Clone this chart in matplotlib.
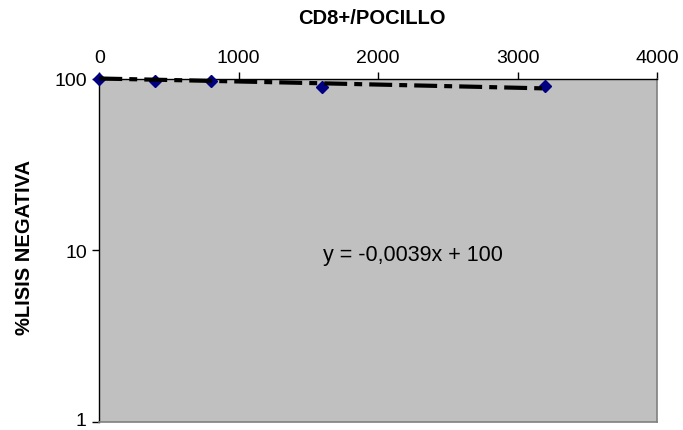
import numpy as np
import matplotlib
matplotlib.use("Agg")
import matplotlib.pyplot as plt
import matplotlib.transforms as mtransforms

# CD8+ cells per well vs. percentage of negative lysis
cd8_per_well = [0, 400, 800, 1600, 3200]
lysis_negative = [100, 97, 97, 89, 90]

# Linear trendline reported on the chart
trend_slope = -0.0039
trend_intercept = 100
trend_label = "y = -0,0039x + 100"

x_ticks = [0, 1000, 2000, 3000, 4000]
y_ticks = [1, 10, 100]

plt.rcParams['font.family'] = ['Liberation Sans', 'DejaVu Sans']

fig = plt.figure(figsize=(6.83, 4.31), dpi=100)
ax = fig.add_axes([99.3 / 683, 1 - 422.5 / 431, (657 - 99.3) / 683, (422.5 - 79.5) / 431])
ax.set_facecolor('#C0C0C0')

ax.set_yscale('log')
ax.set_xlim(0, 4000)
ax.set_ylim(1, 100)

# data points
ax.plot(cd8_per_well, lysis_negative, linestyle='none', marker='D',
        markersize=6.5, color='#000080', zorder=3, clip_on=False)

# trendline (long dash - dot)
tx = np.linspace(cd8_per_well[0], cd8_per_well[-1], 200)
ty = trend_slope * tx + trend_intercept
ax.plot(tx, ty, color='black', linewidth=3,
        dashes=(5.5, 1.7, 1.9, 1.7), zorder=4, clip_on=False)

ax.text(0.401, 0.487, trend_label, transform=ax.transAxes,
        ha='left', va='center', fontsize=15.5, color='black')

# axes styling
ax.xaxis.tick_top()
ax.set_xticks(x_ticks)
ax.set_xticklabels([str(v) for v in x_ticks])
ax.set_yticks(y_ticks)
ax.set_yticklabels([str(v) for v in y_ticks])
ax.yaxis.set_minor_locator(matplotlib.ticker.NullLocator())
ax.tick_params(axis='both', direction='out', length=5, width=1,
               labelsize=14, colors='black', pad=4)
ax.tick_params(axis='x', top=True, bottom=False)

# keep the lowest y label inside the figure edge
low_label = ax.get_yticklabels()[0]
low_label.set_transform(low_label.get_transform() +
                        mtransforms.ScaledTranslation(0, 3 / 100, fig.dpi_scale_trans))

for side in ('left', 'top'):
    ax.spines[side].set_color('black')
    ax.spines[side].set_linewidth(1)
for side in ('right', 'bottom'):
    ax.spines[side].set_color('#808080')
    ax.spines[side].set_linewidth(1.2)

fig.text(372 / 683, 1 - 19 / 431, "CD8+/POCILLO", ha='center', va='center',
         fontsize=14.5, fontweight='bold')
fig.text(25 / 683, 1 - 248 / 431, "%LISIS NEGATIVA", ha='center', va='center',
         rotation=90, fontsize=14.5, fontweight='bold')

fig.savefig('out.png', dpi=100, facecolor='white')
